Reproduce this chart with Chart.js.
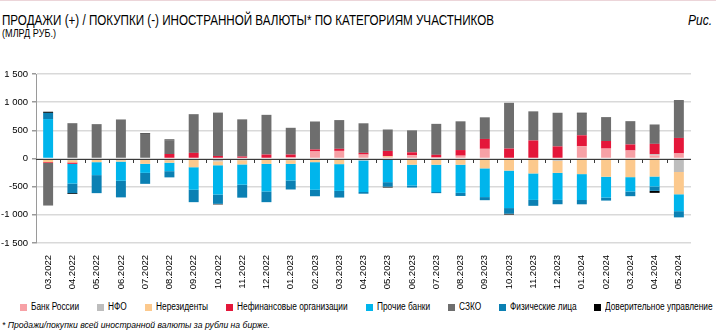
<!DOCTYPE html>
<html><head><meta charset="utf-8">
<script src="https://cdn.jsdelivr.net/npm/chart.js@4.4.0/dist/chart.umd.min.js"></script>
<style>
html,body{margin:0;padding:0;background:#fff;}
body{width:716px;height:336px;position:relative;overflow:hidden;font-family:"Liberation Sans","Arial",sans-serif;color:#000;}
#topline{position:absolute;left:0;top:0;width:716px;height:1px;background:#ecd5d9;}
.sx{transform-origin:0 0;display:inline-block;white-space:nowrap;}
#title{position:absolute;left:2px;top:12px;font-size:14px;}
#fig{position:absolute;left:688px;top:12px;font-size:14px;font-style:italic;}
#unit{position:absolute;left:2px;top:28px;font-size:10px;}
#chartbox{position:absolute;left:0;top:50px;width:716px;height:250px;}
#legend{position:absolute;left:20px;top:301px;display:flex;gap:18px;font-size:10px;white-space:nowrap;line-height:12px;}
#legend .it{display:flex;align-items:center;}
#legend .bx{width:7px;height:7px;margin-right:4px;flex:none;}
#legend .tw{display:inline-block;overflow:visible;}
#legend .tx{display:inline-block;transform-origin:0 0;white-space:nowrap;}
#note{position:absolute;left:2px;top:320px;font-size:9px;font-style:italic;}
</style>
</head><body>
<div id="topline"></div>
<div id="title" class="sx">ПРОДАЖИ (+) / ПОКУПКИ (-) ИНОСТРАННОЙ ВАЛЮТЫ* ПО КАТЕГОРИЯМ УЧАСТНИКОВ</div>
<div id="fig" class="sx">Рис.</div>
<div id="unit" class="sx">(МЛРД РУБ.)</div>
<div id="chartbox"><canvas id="c" width="716" height="250"></canvas></div>
<div id="legend"></div>
<div id="note" class="sx">* Продажи/покупки всей иностранной валюты за рубли на бирже.</div>
<script>
const categories = ["03.2022","04.2022","05.2022","06.2022","07.2022","08.2022","09.2022","10.2022","11.2022","12.2022",
  "01.2023","02.2023","03.2023","04.2023","05.2023","06.2023","07.2023","08.2023","09.2023","10.2023","11.2023","12.2023",
  "01.2024","02.2024","03.2024","04.2024","05.2024"];
const bankOfRussia = [0,-10,0,-15,0,0,0,0,0,0, 20,125,135,70,20,60,20,50,172,0,0,0, 217,176,142,55,90];
const nfo          = [-25,-20,-15,-15,-10,-30,-15,-50,-30,-10, -30,-10,-20,-35,0,-10,-10,-20,-10,0,0,-40, 0,0,0,20,-240];
const nonResidents = [-40,-40,-50,-25,-85,-45,-140,-70,-75,-85, -65,-55,-80,0,20,-100,-100,-90,-165,-215,-265,-215, -277,-324,-331,-320,-395];
const corporates   = [-15,-25,0,0,0,80,100,45,35,70, 50,35,37,30,95,50,45,100,175,176,320,215, 195,135,107,185,275];
const otherBanks   = [700,-350,-230,-340,-160,-150,-400,-520,-360,-490, -295,-490,-475,-560,-420,-370,-485,-500,-510,-665,-470,-480, -460,-370,-255,-177,-300];
const sibs         = [-755,627,610,693,440,245,687,770,660,705, 475,497,510,525,380,390,550,510,384,813,517,597, 385,424,414,344,673];
const individuals  = [110,-170,-320,-295,-195,-110,-220,-165,-230,-190, -160,-115,-118,-30,-80,-35,-20,-55,-55,-100,-105,-77, -76,-53,-83,-77,-110];
const trustMgmt    = [20,-15,0,0,12,12,0,-10,0,0, 0,0,0,0,-15,0,0,0,0,-15,0,0, 15,0,0,-36,0];
const seriesNames  = ["Банк России","НФО","Нерезиденты","Нефинансовые организации","Прочие банки","СЗКО","Физические лица","Доверительное управление"];
const yTicks = [-1500,-1000,-500,0,500,1000,1500];

const seriesData = [bankOfRussia,nfo,nonResidents,corporates,otherBanks,sibs,individuals,trustMgmt];
const colors = ["#f7a1a6","#bdbdbd","#fcc98d","#e4173a","#00b5ec","#6e6e6e","#0b80b3","#000000"];

const datasets = seriesNames.map((n,i)=>({
  label:n, data:seriesData[i], backgroundColor:colors[i], borderWidth:0,
  barPercentage:0.41, categoryPercentage:1, stack:'s'
}));

const fmt = v => String(v).replace(/\B(?=(\d{3})+(?!\d))/g,' ');
const FONT = '"Liberation Sans","Arial",sans-serif';

const zeroLine = {
  id:'zeroLine',
  afterDatasetsDraw(chart){
    const {ctx, chartArea:a, scales:{x,y}} = chart;
    const y0 = Math.round(y.getPixelForValue(0))+0.5;
    ctx.save();
    ctx.strokeStyle='#3a3a3a'; ctx.lineWidth=1.2;
    ctx.beginPath(); ctx.moveTo(a.left,y0); ctx.lineTo(a.right,y0); ctx.stroke();
    ctx.lineWidth=1;
    const n = categories.length;
    for(let i=1;i<n;i++){
      const xb = Math.round((x.getPixelForTick(i)+x.getPixelForTick(i-1))/2)+0.5;
      ctx.beginPath(); ctx.moveTo(xb,y0); ctx.lineTo(xb,y0+3.5); ctx.stroke();
    }
    ctx.restore();
  }
};

const chart = new Chart(document.getElementById('c'), {
  type:'bar',
  data:{labels:categories, datasets},
  options:{
    responsive:false, animation:false, devicePixelRatio:1,
    layout:{padding:{top:24,right:25,left:0,bottom:0}},
    plugins:{legend:{display:false}, tooltip:{enabled:false}},
    scales:{
      x:{stacked:true, grid:{display:false}, border:{display:false},
         ticks:{minRotation:90,maxRotation:90,autoSkip:false,color:'#000',padding:4,
                font:{family:FONT,size:9.5}},
         afterFit(s){s.height=57;}},
      y:{stacked:true, min:-1500, max:1500,
         afterBuildTicks(s){s.ticks = yTicks.map(v=>({value:v}));},
         ticks:{color:'#000',padding:4,callback:v=>fmt(v),font:{family:FONT,size:9.5}},
         grid:{color:'#d9d9d9',lineWidth:1.5,tickLength:4,tickColor:'#9a9a9a'},
         border:{color:'#9a9a9a',width:1},
         afterFit(s){s.width=36;}}
    }
  },
  plugins:[zeroLine]
});

function fitW(id, target){
  const el=document.getElementById(id);
  const w=el.getBoundingClientRect().width;
  el.style.transform='scaleX('+(target/w)+')';
}
fitW('title',492); fitW('fig',24); fitW('unit',54); fitW('note',268);

const leg = document.getElementById('legend');
const texts=[];
seriesNames.forEach((n,i)=>{
  const it=document.createElement('div'); it.className='it';
  const b=document.createElement('span'); b.className='bx'; b.style.background=colors[i];
  const w=document.createElement('span'); w.className='tw';
  const t=document.createElement('span'); t.className='tx'; t.textContent=n;
  w.appendChild(t); it.appendChild(b); it.appendChild(w); leg.appendChild(it);
  texts.push([w,t]);
});
const sumW = texts.reduce((s,[w,t])=>s+t.getBoundingClientRect().width,0);
const s = (693 - seriesNames.length*11 - (seriesNames.length-1)*18)/sumW;
texts.forEach(([w,t])=>{
  const tw=t.getBoundingClientRect().width;
  t.style.transform='scaleX('+s+')';
  w.style.width=(tw*s)+'px';
});
</script>
</body></html>
